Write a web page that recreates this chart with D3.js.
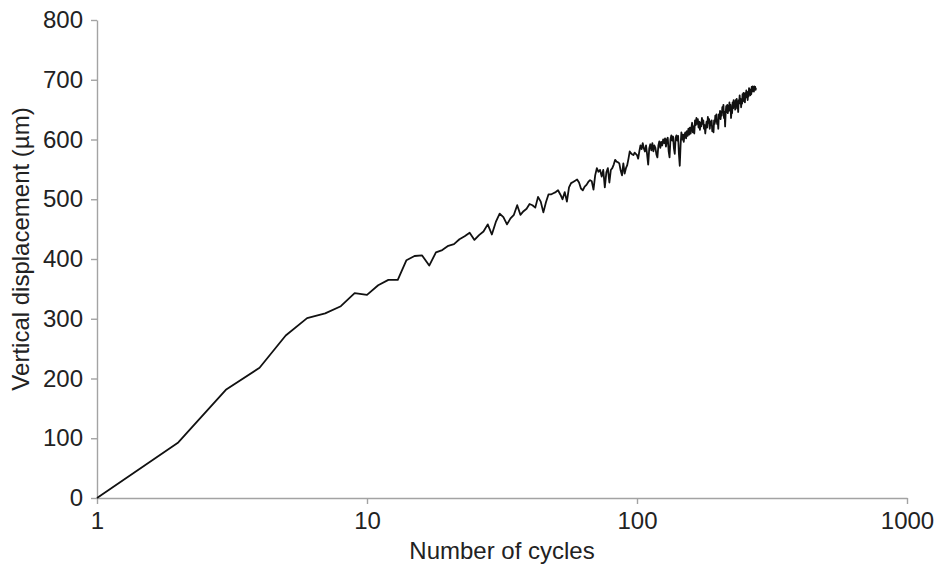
<!DOCTYPE html>
<html>
<head>
<meta charset="utf-8">
<script src="https://cdn.jsdelivr.net/npm/d3@7"></script>
<style>
  body { margin: 0; background: #fff; }
  svg { display: block; }
  text { font-family: "Liberation Sans", Arial, sans-serif; fill: #222; }
</style>
</head>
<body>
<svg id="chart" width="935" height="571"></svg>
<script>
// Axis ticks
const xTicks = [1, 10, 100, 1000];
const yTicks = [0, 100, 200, 300, 400, 500, 600, 700, 800];

// Vertical displacement (µm) recorded at each cycle, starting at cycle 1
const dispCycles1to29 = [
  0, 93, 181, 218, 272, 301, 309, 321, 343,
  340, 356, 365, 365, 398, 405, 406, 389, 411, 415,
  422, 425, 433, 438, 444, 432, 440, 446, 458, 441
];
const dispCycles30to99 = [
  462, 476, 470, 458, 468, 474, 490, 474, 480, 484,
  492, 490, 486, 504, 496, 478, 495, 508, 508, 510,
  512, 515, 508, 500, 512, 496, 520, 527, 529, 531,
  533, 528, 518, 515, 521, 524, 529, 532, 530, 516,
  540, 552, 546, 549, 538, 549, 520, 545, 552, 528,
  549, 552, 558, 566, 563, 562, 560, 548, 540, 560,
  543, 552, 557, 568, 580, 577, 575, 574, 578, 576
];
const dispCycles100to276 = [
  574, 568, 580, 590, 584, 594, 585, 580, 590, 575,
  558, 585, 592, 582, 594, 580, 590, 586, 575, 570,
  590, 597, 586, 596, 590, 600, 594, 602, 588, 600,
  603, 580, 570, 600, 607, 598, 605, 585, 576, 603,
  607, 598, 606, 575, 556, 590, 612, 600, 608, 596,
  608, 612, 602, 614, 606, 618, 608, 620, 610, 620,
  628, 612, 622, 610, 632, 624, 636, 626, 634, 620,
  630, 616, 628, 622, 636, 626, 632, 618, 624, 610,
  622, 630, 620, 638, 628, 634, 618, 630, 624, 632,
  614, 622, 612, 632, 626, 640, 630, 642, 626, 632,
  618, 642, 636, 648, 634, 646, 640, 654, 646, 658,
  636, 646, 622, 644, 656, 646, 658, 644, 656, 648,
  662, 650, 658, 636, 648, 644, 662, 652, 666, 656,
  662, 650, 666, 658, 668, 652, 660, 646, 666, 660,
  674, 662, 668, 654, 664, 660, 676, 668, 678, 664,
  672, 662, 678, 670, 682, 672, 678, 666, 680, 672,
  686, 676, 684, 674, 682, 676, 688, 680, 689, 682,
  686, 680, 689, 684, 688, 683, 686
];

const displacement = dispCycles1to29.concat(dispCycles30to99, dispCycles100to276);
const series = displacement.map((v, i) => ({ cycle: i + 1, value: v }));

const svg = d3.select("#chart");
const plotLeft = 97, plotRight = 907, plotTop = 20, plotBottom = 498;

const x = d3.scaleLog().domain([1, 1000]).range([plotLeft, plotRight]);
const y = d3.scaleLinear().domain([0, 800]).range([plotBottom, plotTop]);

const axisColor = "#a3a3a3";
const fontSize = "24px";

// y axis
const yAxis = svg.append("g")
  .attr("transform", `translate(${plotLeft},0)`)
  .call(d3.axisLeft(y).tickValues(yTicks).tickFormat(d3.format("d"))
    .tickSize(6).tickSizeOuter(0).tickPadding(8));

// x axis
const xAxis = svg.append("g")
  .attr("transform", `translate(0,${plotBottom})`)
  .call(d3.axisBottom(x).tickValues(xTicks).tickFormat(d3.format("d"))
    .tickSize(6).tickSizeOuter(0).tickPadding(8));

[yAxis, xAxis].forEach(g => {
  g.select(".domain").attr("stroke", axisColor).attr("stroke-width", 1.4);
  g.selectAll(".tick line").attr("stroke", axisColor).attr("stroke-width", 1.4);
  g.selectAll(".tick text")
    .attr("fill", "#222")
    .style("font-family", '"Liberation Sans", Arial, sans-serif')
    .style("font-size", fontSize);
});

// displacement curve
const line = d3.line()
  .x(d => x(d.cycle))
  .y(d => y(d.value));

svg.append("path")
  .datum(series)
  .attr("fill", "none")
  .attr("stroke", "#111")
  .attr("stroke-width", 1.8)
  .attr("stroke-linejoin", "round")
  .attr("d", line);

// axis titles
svg.append("text")
  .attr("x", (plotLeft + plotRight) / 2)
  .attr("y", 559)
  .attr("text-anchor", "middle")
  .style("font-size", fontSize)
  .text("Number of cycles");

svg.append("text")
  .attr("transform", `translate(29,${(plotTop + plotBottom) / 2 - 10}) rotate(-90)`)
  .attr("text-anchor", "middle")
  .style("font-size", fontSize)
  .text("Vertical displacement (µm)");
</script>
</body>
</html>
